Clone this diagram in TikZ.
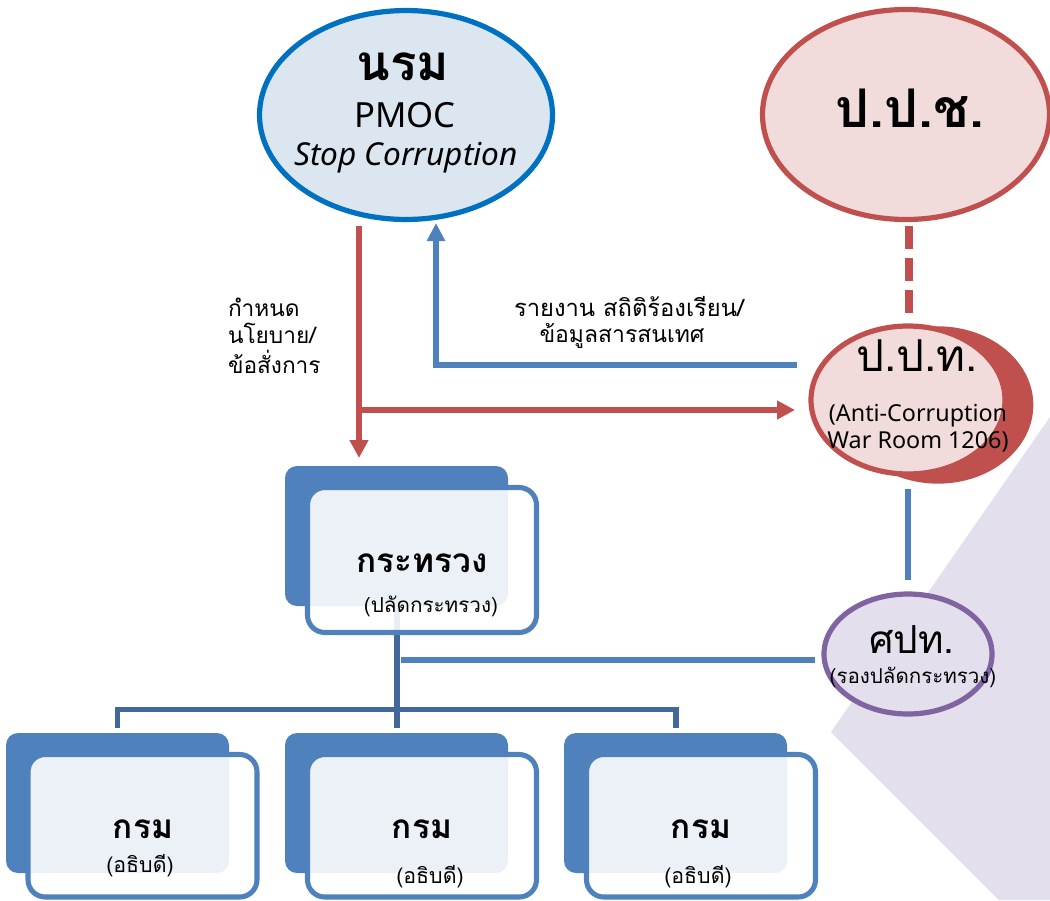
\documentclass[tikz,border=0pt]{standalone}
\usepackage{fontspec}
\usetikzlibrary{arrows.meta,shapes.geometric}
\setmainfont{Noto Sans}
\newfontfamily\thaif[Script=Thai]{Loma}
\definecolor{cred}{HTML}{C0504D}
\definecolor{cblue}{HTML}{4F81BD}
\definecolor{cdark}{HTML}{41689A}
\definecolor{cring}{HTML}{0070C0}
\definecolor{cpurple}{HTML}{8064A2}
\definecolor{clav}{HTML}{E4DFEC}
\definecolor{cpale}{HTML}{DCE6F1}
\definecolor{cpink}{HTML}{F2DCDB}
\tikzset{
  x=0.75pt,y=-0.75pt,
  oval/.style={ellipse,inner sep=0pt,outer sep=0pt,line width=3.9pt},
  backbox/.style={rectangle,rounded corners=9pt,fill=cblue,inner sep=0pt,outer sep=0pt,minimum width=167.25pt,minimum height=105pt},
  frontbox/.style={rectangle,rounded corners=13pt,draw=cblue,line width=3.8pt,fill=white,fill opacity=0.89,inner sep=0pt,outer sep=0pt},
  redline/.style={draw=cred,line width=4.4pt},
  blueline/.style={draw=cblue,line width=4.2pt},
  darkline/.style={draw=cdark,line width=3.9pt},
  redarrow/.style={redline,-{Triangle[length=13.5pt,width=13.5pt]}},
  bluearrow/.style={blueline,-{Triangle[length=13.5pt,width=13pt]}},
  lbl/.style={inner sep=0pt,outer sep=0pt,align=center,text=black},
}
\newcommand{\fs}[1]{\fontsize{#1}{#1}\selectfont}
\begin{document}
\begin{tikzpicture}
\useasboundingbox (0,0) rectangle (1050,900);
\begin{scope}
\clip (0,0) rectangle (1050,900);
\fill[clav] (831,732) -- (1050,417) -- (1050,900) -- (999,900) -- cycle;

% ellipses
\node[oval,draw=cring,fill=cpale,minimum width=219.75pt,minimum height=156.7pt] (nrm) at (406,115) {};
\node[oval,draw=cred,fill=cpink,minimum width=215.25pt,minimum height=157.5pt] (ppc) at (906,114.5) {};
\node[oval,draw=none,fill=cred,minimum width=143pt,minimum height=118pt] (pptback) at (938,405) {};
\node[oval,draw=cred,fill=cpink,minimum width=145.5pt,minimum height=111pt] (ppt) at (908,400) {};
\node[oval,draw=cpurple,fill=clav,minimum width=126pt,minimum height=90pt] (spt) at (908,654) {};

% free ends
\coordinate (a1) at (359,226);
\coordinate (a2) at (359,458);
\coordinate (b1) at (359,410);
\coordinate (b2) at (795,410);
\coordinate (c1) at (797,365);
\coordinate (c2) at (436,365);
\coordinate (c3) at (436,223);
\coordinate (d1) at (909,226);
\coordinate (d2) at (909,314);
\coordinate (e1) at (908,489);
\coordinate (e2) at (908,580);
\coordinate (f1) at (401,660);
\coordinate (f2) at (815,660);
\coordinate (g1) at (397,606);
\coordinate (g2) at (397,728);
\coordinate (h0) at (117.5,728);
\coordinate (h1) at (117.5,709.5);
\coordinate (h2) at (676,709.5);
\coordinate (h3) at (676,728);

% connectors
\draw[redarrow] (a1) -- (a2);
\draw[redarrow] (b1) -- (b2);
\draw[bluearrow] (c1) -- (c2) -- (c3);
\draw[redline,line width=6.6pt,dash pattern=on 17pt off 7pt] (d1) -- (d2);
\draw[blueline] (e1) -- (e2);
\draw[blueline] (f1) -- (f2);
\draw[darkline] (g1) -- (g2);
\draw[darkline] (h0) -- (h1) -- (h2) -- (h3);

% boxes
\node[backbox] (mback) at (396.5,536) {};
\node[frontbox,minimum width=171.75pt,minimum height=108.75pt] (mfront) at (422,560) {};
\node[backbox] (d1back) at (117.5,803) {};
\node[frontbox,minimum width=171.75pt,minimum height=106.9pt] (d1front) at (142.5,825.75) {};
\node[backbox] (d2back) at (396.5,803) {};
\node[frontbox,minimum width=171.75pt,minimum height=106.9pt] (d2front) at (422,825.75) {};
\node[backbox] (d3back) at (675.5,803) {};
\node[frontbox,minimum width=171.75pt,minimum height=106.9pt] (d3front) at (701,825.75) {};

% text
\node[lbl] (t1) at (403,67) {\thaif\bfseries\fs{37}นรม};
\node[lbl] (t2) at (405,115) {\fs{26}PMOC};
\node[lbl] (t3) at (406,158) {\itshape\fs{23.7}Stop Corruption};
\node[lbl] (t4) at (910,108) {\thaif\bfseries\fs{40}ป.ป.ช.};
\node[lbl] (t5) at (917,356) {\thaif\fs{33}ป.ป.ท.};
\node[lbl] (t6) at (918,416) {\fs{17.5}(Anti-Corruption};
\node[lbl] (t6b) at (918,442) {\fs{17.5}War Room 1206)};
\node[lbl] (t7) at (422,563) {\thaif\bfseries\fs{25}กระทรวง};
\node[lbl] (t8) at (431,606) {\thaif\fs{15.5}(ปลัดกระทรวง)};
\node[lbl] (t9) at (912,640) {\thaif\fs{29}ศปท.};
\node[lbl] (t10) at (913,677) {\thaif\fs{15.4}(รองปลัดกระทรวง)};
\node[lbl,anchor=west,align=left] (t11) at (228,336) {\thaif\fs{17}กำหนด\\[4pt]\thaif\fs{17}นโยบาย/\\[4pt]\thaif\fs{17}ข้อสั่งการ};
\node[lbl] (t12) at (629,307) {\thaif\fs{17.8}รายงาน สถิติร้องเรียน/};
\node[lbl] (t12b) at (622,336) {\thaif\fs{17.2}ข้อมูลสารสนเทศ};
\node[lbl] (t13) at (143,829) {\thaif\bfseries\fs{25}กรม};
\node[lbl] (t14) at (140,866) {\thaif\fs{16}(อธิบดี)};
\node[lbl] (t15) at (422,829) {\thaif\bfseries\fs{25}กรม};
\node[lbl] (t16) at (430,877) {\thaif\fs{16}(อธิบดี)};
\node[lbl] (t17) at (701,829) {\thaif\bfseries\fs{25}กรม};
\node[lbl] (t18) at (698,877) {\thaif\fs{16}(อธิบดี)};
\end{scope}
\end{tikzpicture}
\end{document}
